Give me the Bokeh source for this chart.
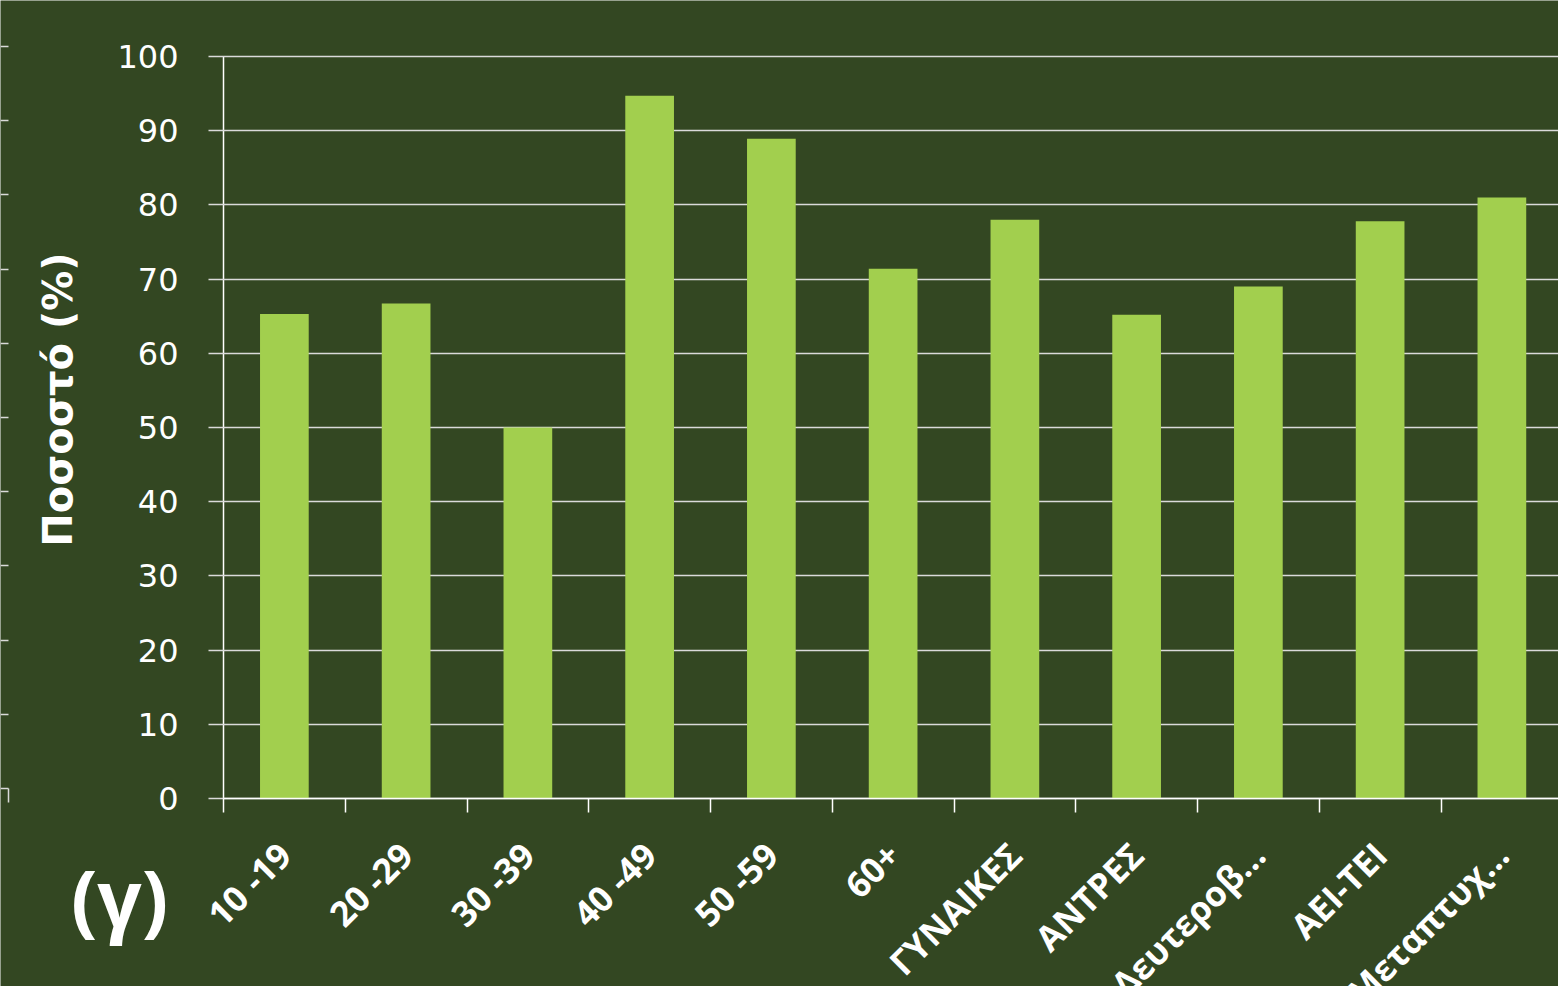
from bokeh.plotting import figure
from bokeh.models import Range1d, FixedTicker, Label, LinearAxis
from bokeh.embed import file_html
from bokeh.resources import INLINE
import math

categories = ["10 -19", "20 -29", "30 -39", "40 -49", "50 -59", "60+",
              "ΓΥΝΑΙΚΕΣ", "ΑΝΤΡΕΣ", "Δευτεροβ…", "ΑΕΙ-ΤΕΙ", "Μεταπτυχ…"]
values = [65.3, 66.7, 50.0, 94.7, 88.9, 71.4, 78.0, 65.2, 69.0, 77.8, 81.0]
y_ticks = [0, 10, 20, 30, 40, 50, 60, 70, 80, 90, 100]
y_title = "\u00a0\u00a0\u00a0\u00a0Ποσοστό (%)"
panel_tag = "(γ)"

BG = "#334722"
BAR = "#A2CF4E"
WHITE = "#FFFFFF"
GRID = "#DADADA"

n = len(categories)
centers = [i + 0.5 for i in range(n)]
bounds = list(range(n + 1))

# canvas layout (pixels): plot area from x=223 to 1558, y=56 (100%) to 798 (0%)
W, H = 1558, 986
LEFT, TOP, BOTTOM = 223, 56, 798
cat_px = 121.75
val_px = (BOTTOM - TOP) / 100.0
x_range = Range1d(-LEFT / cat_px, (W - LEFT) / cat_px)
y_range = Range1d(-(H - BOTTOM) / val_px, 100 + TOP / val_px)

p = figure(width=W, height=H, output_backend="svg", toolbar_location=None,
           x_range=x_range, y_range=y_range, min_border=0,
           min_border_left=0, min_border_right=0, min_border_top=0,
           min_border_bottom=0)
p.background_fill_color = BG
p.border_fill_color = BG
p.outline_line_color = None
p.grid.visible = False

p.vbar(x=centers, top=values, width=0.4, fill_color=BAR, line_color=None)

# y axis (its long inward ticks form the horizontal grid lines)
p.yaxis.fixed_location = 0
p.yaxis.bounds = (0, 100)
p.yaxis.level = "underlay"
p.yaxis.ticker = FixedTicker(ticks=y_ticks, minor_ticks=[])
p.yaxis.axis_line_color = WHITE
p.yaxis.axis_line_width = 1.5
p.yaxis.major_tick_line_color = GRID
p.yaxis.major_tick_line_width = 1.5
p.yaxis.major_tick_out = 15
p.yaxis.major_tick_in = W
p.yaxis.minor_tick_line_color = None
p.yaxis.major_label_standoff = 30
p.yaxis.major_label_text_color = WHITE
p.yaxis.major_label_text_font = "DejaVu Sans"
p.yaxis.major_label_text_font_size = "32px"
p.yaxis.axis_label = y_title
p.yaxis.axis_label_text_color = WHITE
p.yaxis.axis_label_text_font = "DejaVu Sans"
p.yaxis.axis_label_text_font_style = "bold"
p.yaxis.axis_label_text_font_size = "40px"
p.yaxis.axis_label_standoff = 33

# x axis
p.xaxis.fixed_location = 0
p.xaxis.bounds = (0, x_range.end)
p.xaxis.ticker = FixedTicker(ticks=centers, minor_ticks=bounds)
p.xaxis.major_label_overrides = {c: lab for c, lab in zip(centers, categories)}
p.xaxis.axis_line_color = WHITE
p.xaxis.axis_line_width = 1.5
p.xaxis.major_tick_out = 0
p.xaxis.major_tick_in = 0
p.xaxis.minor_tick_line_color = WHITE
p.xaxis.minor_tick_line_width = 1.5
p.xaxis.minor_tick_out = 14
p.xaxis.minor_tick_in = 0
p.xaxis.major_label_orientation = math.pi / 4
p.xaxis.major_label_standoff = 36
p.xaxis.major_label_text_color = WHITE
p.xaxis.major_label_text_font = "Open Sans"
p.xaxis.major_label_text_font_style = "bold"
p.xaxis.major_label_text_font_size = "35px"

# edge of the neighbouring chart at the far left
shift = (BOTTOM - 788) / val_px
p.extra_y_ranges = {"nb": Range1d(y_range.start - shift, y_range.end - shift)}
nb_x = (8 - LEFT) / cat_px
nb_ticks = LinearAxis(y_range_name="nb", fixed_location=nb_x,
                      ticker=FixedTicker(ticks=y_ticks, minor_ticks=[]),
                      axis_line_color=None, major_tick_out=8, major_tick_in=0,
                      major_tick_line_color=GRID, major_tick_line_width=1.5,
                      major_label_text_color=None, minor_tick_line_color=None)
p.add_layout(nb_ticks, "left")
nb_corner = LinearAxis(y_range_name="nb", fixed_location=nb_x, bounds=(-14 / val_px, 0),
                       ticker=FixedTicker(ticks=[], minor_ticks=[]),
                       axis_line_color=GRID, axis_line_width=1.5,
                       major_tick_line_color=None, minor_tick_line_color=None,
                       major_label_text_color=None)
p.add_layout(nb_corner, "left")

p.add_layout(Label(x=119, y=896, x_units="canvas", y_units="canvas",
                   text=panel_tag, text_color=WHITE, text_font="Open Sans",
                   text_font_style="bold", text_font_size="78px",
                   text_align="center", text_baseline="middle"))

open("out.html", "w").write(file_html(p, INLINE))
